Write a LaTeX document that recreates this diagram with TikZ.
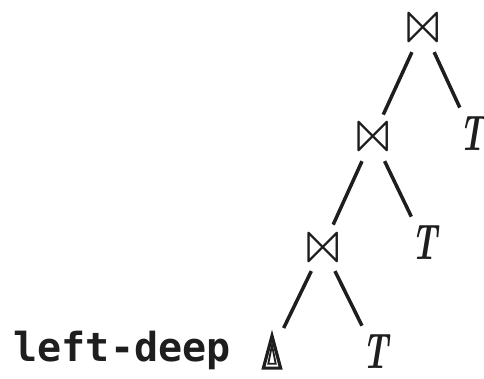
\documentclass[tikz,border=0pt]{standalone}
\usepackage{fontspec}
\setmonofont{DejaVu Sans Mono}
\newfontfamily\symfont{Latin Modern Math}
\usetikzlibrary{positioning,calc}
\definecolor{ink}{RGB}{30,30,30}
\tikzset{joinop/.style={inner sep=0.5pt,font=\symfont\fontsize{60}{60}\selectfont,text=ink},
  leaf/.style={inner sep=3pt,font=\bfseries\itshape\fontsize{50}{50}\selectfont,text=ink},
  branch/.style={line width=3.5pt,ink,shorten <=9pt,shorten >=7pt},
  tagtext/.style={font=\ttfamily\bfseries\fontsize{40}{40}\selectfont,text=ink}}

\begin{document}
\begin{tikzpicture}[x=1pt, y=-1pt]
\useasboundingbox (0,0) rectangle (484,379);
\node[joinop] (j1) at (423,28) {⋈};
\node[joinop] (j2) at (373,137) {⋈};
\node[joinop] (j3) at (323,247) {⋈};
\node[leaf] (t1) at (472,134) {\scalebox{0.65}[1]{T}};
\node[leaf] (t2) at (424,243) {\scalebox{0.65}[1]{T}};
\node[leaf] (t3) at (375,352) {\scalebox{0.65}[1]{T}};
\node[minimum width=20pt, minimum height=35pt, inner sep=0pt] (rel) at (272,352) {};
% nested triangle of the base relation
\draw[ink, line width=3.2pt, line join=miter]
  ($(rel.south west)+(1.6,-1.6)$) -- ($(rel.north)+(0,1.6)$)
  -- ($(rel.south east)+(-1.6,-1.6)$) -- cycle;
\draw[ink, line width=1.8pt, line join=miter]
  ($(rel.south west)+(6.5,-6)$) -- ($(rel.north)+(0,11)$)
  -- ($(rel.south east)+(-6.5,-6)$) -- cycle;
\node[tagtext, anchor=base east] (lbl) at (234,361) {left-deep};
\draw[branch] (j1) -- (j2);
\draw[branch] (j1) -- (t1);
\draw[branch] (j2) -- (j3);
\draw[branch] (j2) -- (t2);
\draw[branch] (j3) -- (rel);
\draw[branch] (j3) -- (t3);
\end{tikzpicture}
\end{document}
